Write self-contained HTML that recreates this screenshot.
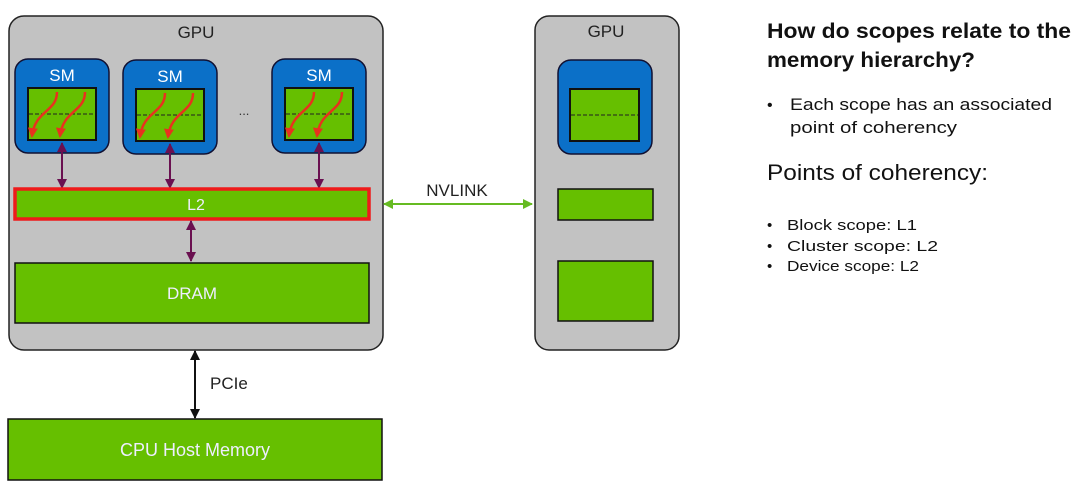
<!DOCTYPE html>
<html><head><meta charset="utf-8"><style>
body{margin:0;background:#fff;}
svg{display:block;font-family:"Liberation Sans",sans-serif;}
</style></head><body>
<svg width="1080" height="491" viewBox="0 0 1080 491" xmlns="http://www.w3.org/2000/svg">
<defs>
<marker id="mp" viewBox="0 0 10 10" refX="9" refY="5" markerWidth="5" markerHeight="5" orient="auto-start-reverse"><path d="M0,0L10,5L0,10z" fill="#6a1050"/></marker>
<marker id="mk" viewBox="0 0 10 10" refX="9" refY="5" markerWidth="5" markerHeight="5" orient="auto-start-reverse"><path d="M0,0L10,5L0,10z" fill="#111"/></marker>
<marker id="mg" viewBox="0 0 10 10" refX="9" refY="5" markerWidth="5" markerHeight="5" orient="auto-start-reverse"><path d="M0,0L10,5L0,10z" fill="#66bb22"/></marker>
<marker id="mr" viewBox="0 0 10 10" refX="8" refY="5" markerWidth="4" markerHeight="4" orient="auto"><path d="M0,0L10,5L0,10z" fill="#e8321e"/></marker>
</defs>
<rect x="9" y="16" width="374" height="334" rx="15" fill="#c2c2c2" stroke="#222" stroke-width="1.5"/>
<text x="196" y="38" font-size="17" text-anchor="middle" fill="#222">GPU</text>
<g id="sm">
<rect x="15" y="59" width="94" height="94" rx="13" fill="#0b70c8" stroke="#113" stroke-width="1.5"/>
<text x="62" y="81" font-size="17" text-anchor="middle" fill="#fff">SM</text>
<rect x="28" y="88" width="68" height="52" fill="#66bf00" stroke="#111" stroke-width="2"/>
<line x1="29" y1="114" x2="95" y2="114" stroke="#222" stroke-width="1" stroke-dasharray="4,2"/>
<path d="M57,92 C57,112 35,110 32,136" fill="none" stroke="#e8321e" stroke-width="2.5" marker-end="url(#mr)"/>
<path d="M85,92 C85,112 63,110 60,136" fill="none" stroke="#e8321e" stroke-width="2.5" marker-end="url(#mr)"/>
</g>
<use href="#sm" x="108" y="1"/>
<use href="#sm" x="257" y="0"/>
<text x="244" y="115" font-size="13" text-anchor="middle" fill="#333">...</text>
<line x1="62" y1="143" x2="62" y2="188" stroke="#6a1050" stroke-width="2" marker-start="url(#mp)" marker-end="url(#mp)"/>
<line x1="170" y1="144" x2="170" y2="188" stroke="#6a1050" stroke-width="2" marker-start="url(#mp)" marker-end="url(#mp)"/>
<line x1="319" y1="143" x2="319" y2="188" stroke="#6a1050" stroke-width="2" marker-start="url(#mp)" marker-end="url(#mp)"/>
<rect x="15" y="189" width="354" height="30" fill="#66bf00" stroke="#ee1b1b" stroke-width="3.5"/>
<text x="196" y="210" font-size="16" text-anchor="middle" fill="#eef">L2</text>
<line x1="191" y1="221" x2="191" y2="261" stroke="#6a1050" stroke-width="2" marker-start="url(#mp)" marker-end="url(#mp)"/>
<rect x="15" y="263" width="354" height="60" fill="#66bf00" stroke="#111" stroke-width="1.5"/>
<text x="192" y="299" font-size="17" text-anchor="middle" fill="#eef">DRAM</text>
<line x1="195" y1="351" x2="195" y2="418" stroke="#111" stroke-width="2" marker-start="url(#mk)" marker-end="url(#mk)"/>
<text x="210" y="389" font-size="17" fill="#222">PCIe</text>
<rect x="8" y="419" width="374" height="61" fill="#66bf00" stroke="#111" stroke-width="1.5"/>
<text x="195" y="456" font-size="18" text-anchor="middle" fill="#eef">CPU Host Memory</text>
<line x1="384" y1="204" x2="532" y2="204" stroke="#66bb22" stroke-width="2" marker-start="url(#mg)" marker-end="url(#mg)"/>
<text x="457" y="196" font-size="17" text-anchor="middle" fill="#222">NVLINK</text>
<rect x="535" y="16" width="144" height="334" rx="14" fill="#c2c2c2" stroke="#222" stroke-width="1.5"/>
<text x="606" y="37" font-size="17" text-anchor="middle" fill="#222">GPU</text>
<rect x="558" y="60" width="94" height="94" rx="13" fill="#0b70c8" stroke="#113" stroke-width="1.5"/>
<rect x="570" y="89" width="69" height="52" fill="#66bf00" stroke="#111" stroke-width="2"/>
<line x1="571" y1="115" x2="638" y2="115" stroke="#222" stroke-width="1" stroke-dasharray="4,2"/>
<rect x="558" y="189" width="95" height="31" fill="#66bf00" stroke="#111" stroke-width="1.5"/>
<rect x="558" y="261" width="95" height="60" fill="#66bf00" stroke="#111" stroke-width="1.5"/>
<g fill="#111">
<text x="767" y="38" font-size="21" font-weight="bold" textLength="304" lengthAdjust="spacingAndGlyphs">How do scopes relate to the</text>
<text x="767" y="67" font-size="21" font-weight="bold" textLength="208" lengthAdjust="spacingAndGlyphs">memory hierarchy?</text>
<text x="767" y="110" font-size="16">•</text>
<text x="790" y="110" font-size="17" textLength="262" lengthAdjust="spacingAndGlyphs">Each scope has an associated</text>
<text x="790" y="133" font-size="17" textLength="167" lengthAdjust="spacingAndGlyphs">point of coherency</text>
<text x="767" y="180" font-size="22" textLength="221" lengthAdjust="spacingAndGlyphs">Points of coherency:</text>
<text x="767" y="230" font-size="15">•</text><text x="787" y="230" font-size="15" textLength="130" lengthAdjust="spacingAndGlyphs">Block scope: L1</text>
<text x="767" y="251" font-size="15">•</text><text x="787" y="251" font-size="15" textLength="151" lengthAdjust="spacingAndGlyphs">Cluster scope: L2</text>
<text x="767" y="271" font-size="15">•</text><text x="787" y="271" font-size="15" textLength="132" lengthAdjust="spacingAndGlyphs">Device scope: L2</text>
</g>
</svg>
</body></html>
